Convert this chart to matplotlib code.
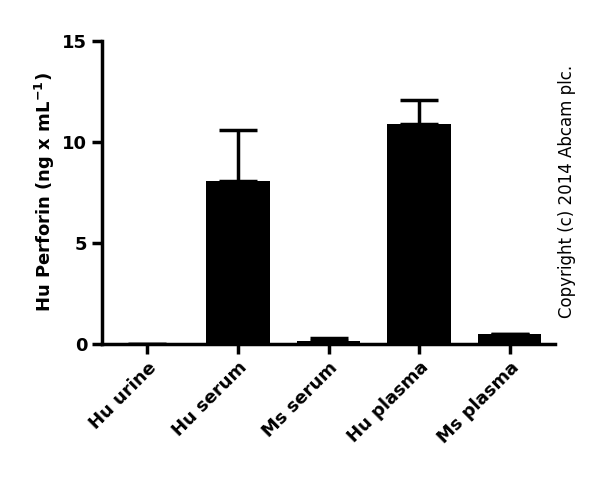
import matplotlib
matplotlib.use("Agg")
import matplotlib.pyplot as plt

categories = ["Hu urine", "Hu serum", "Ms serum", "Hu plasma", "Ms plasma"]
values = [0.0, 8.05, 0.15, 10.9, 0.5]
errors = [0.0, 2.55, 0.15, 1.2, 0.0]
yticks = [0, 5, 10, 15]

fig = plt.figure(figsize=(6, 4.79), dpi=100)
ax = fig.add_axes([0.17, 0.282, 0.755, 0.632])
x = range(len(categories))
ax.bar(x, values, width=0.7, color="black")
ax.errorbar(x, values, yerr=[[0]*len(errors), errors], fmt="none", ecolor="black",
            elinewidth=2.5, capsize=14, capthick=2.5)
ax.set_xlim(-0.5, 4.5)
ax.set_ylim(0, 15)
ax.set_yticks(yticks)
ax.set_xticks(list(x))
ax.set_xticklabels(categories, rotation=45, ha="right", rotation_mode="anchor",
                   fontsize=13, fontweight="bold")
for lab in ax.get_yticklabels():
    lab.set_fontsize(13); lab.set_fontweight("bold")
ax.set_ylabel("Hu Perforin (ng x mL$^{\\mathbf{-1}}$)", fontsize=13, fontweight="bold")
for s in ["top", "right"]:
    ax.spines[s].set_visible(False)
for s in ["left", "bottom"]:
    ax.spines[s].set_linewidth(2.5)
ax.tick_params(width=2.5, length=7)
fig.text(0.945, 0.6, "Copyright (c) 2014 Abcam plc.", rotation=90, fontsize=12,
         ha="center", va="center")
fig.savefig("out.png", dpi=100)
